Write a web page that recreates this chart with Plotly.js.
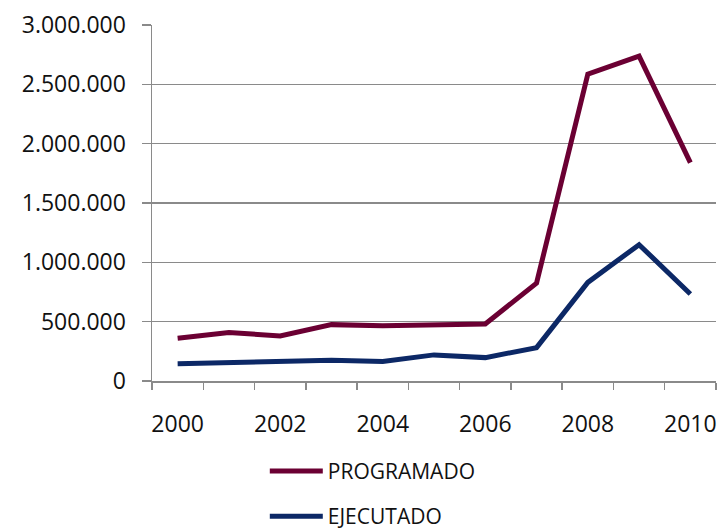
<!DOCTYPE html>
<html>
<head>
<meta charset="utf-8">
<script src="https://cdn.plot.ly/plotly-3.0.1.min.js"></script>
<style>html,body{margin:0;padding:0;background:#fff;}#chart{width:719px;height:530px;}</style>
</head>
<body>
<div id="chart"></div>
<script>
const years = [2000, 2001, 2002, 2003, 2004, 2005, 2006, 2007, 2008, 2009, 2010];
const programado = [361000, 408000, 380000, 475000, 465000, 473000, 480000, 825000, 2586000, 2738000, 1840000];
const ejecutado = [146000, 155000, 165000, 175000, 165000, 220000, 197000, 281000, 831000, 1149000, 733000];
const xTickVals = [2000, 2002, 2004, 2006, 2008, 2010];
const yTickVals = [0, 500000, 1000000, 1500000, 2000000, 2500000, 3000000];
const seriesNames = ['PROGRAMADO', 'EJECUTADO'];

const fontFam = '"Open Sans", "Liberation Sans", sans-serif';
const axisGray = '#8a8a8a';
const txt = '#111111';

const traces = [
  {x: years, y: programado, name: seriesNames[0], type: 'scatter', mode: 'lines',
   line: {color: '#6b0033', width: 5}, legendgroup: 'a'},
  {x: years, y: ejecutado, name: seriesNames[1], type: 'scatter', mode: 'lines',
   line: {color: '#0c2866', width: 5}, legendgroup: 'b'}
];

const layout = {
  width: 719, height: 530,
  margin: {l: 152, r: 3, t: 25, b: 149, autoexpand: false},
  paper_bgcolor: '#fff', plot_bgcolor: '#fff',
  separators: ',.',
  font: {family: fontFam, size: 23, color: txt},
  showlegend: true,
  legend: {orientation: 'v', x: 0.2, xanchor: 'left', y: -0.196, yanchor: 'top',
           font: {family: fontFam, size: 21, color: txt}, tracegroupgap: 15,
           itemwidth: 53, bgcolor: 'rgba(0,0,0,0)'},
  xaxis: {
    range: [1999.5, 2010.5], tickvals: xTickVals, ticktext: xTickVals.map(String),
    ticks: '', showgrid: false, zeroline: false, showline: true, linecolor: axisGray, linewidth: 1.5,
    ticklabelstandoff: 22,
    minor: {ticks: 'outside', tick0: 1999.5, dtick: 1, ticklen: 7, tickcolor: axisGray, tickwidth: 1.5, showgrid: false},
    tickfont: {family: fontFam, size: 23, color: txt}, fixedrange: true
  },
  yaxis: {
    range: [0, 3000000], tickvals: yTickVals, tickformat: ',d',
    ticks: 'outside', ticklen: 9, tickcolor: axisGray, tickwidth: 1.5,
    showgrid: true, gridcolor: axisGray, gridwidth: 1.5, zeroline: false,
    showline: true, linecolor: axisGray, linewidth: 1.5, ticklabelstandoff: 11,
    tickfont: {family: fontFam, size: 23, color: txt}, fixedrange: true
  }
};

Plotly.newPlot('chart', traces, layout, {displayModeBar: false, staticPlot: true});
</script>
</body>
</html>
